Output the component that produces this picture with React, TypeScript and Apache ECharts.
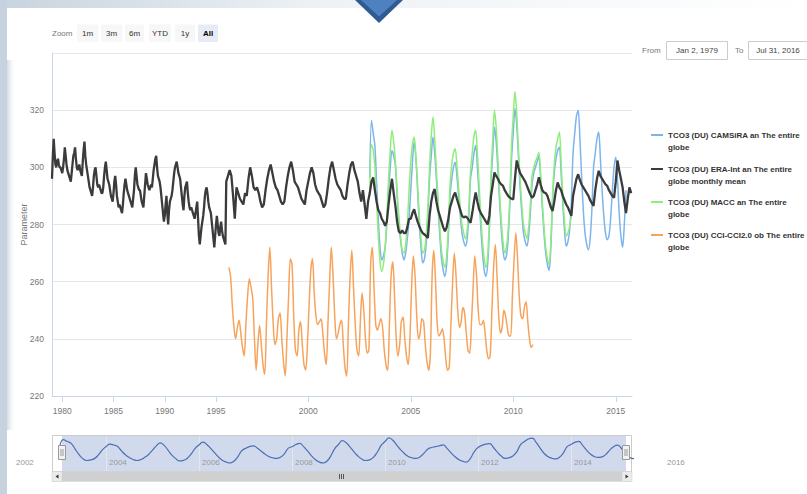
import React, { useEffect, useRef } from "react";
import * as echarts from "echarts";

const FONT = "'Liberation Sans', Arial, sans-serif";

// ---------- series meta ----------
const seriesNames = [
  "TCO3 (DU) CAMSiRA an The entire globe",
  "TCO3 (DU) ERA-Int an The entire globe monthly mean",
  "TCO3 (DU) MACC an The entire globe",
  "TCO3 (DU) CCI-CCI2.0 ob The entire globe",
];
const legendText = [
  "TCO3 (DU) CAMSiRA an The entire\nglobe",
  "TCO3 (DU) ERA-Int an The entire\nglobe monthly mean",
  "TCO3 (DU) MACC an The entire\nglobe",
  "TCO3 (DU) CCI-CCI2.0 ob The entire\nglobe",
];
const seriesColors = ["#7cb5ec", "#3b3b3d", "#90ed7d", "#f7a35c"];

// ---------- axis ticks ----------
const xYearLabels = [1980, 1985, 1990, 1995, 2000, 2005, 2010, 2015];
const yMin = 220;
const yMax = 340;
const yStep = 20;
const navYearMin = 2002;
const navYearMax = 2016;
const navYearStep = 2;

// ---------- zoom buttons / date inputs ----------
const zoomButtons = ["1m", "3m", "6m", "YTD", "1y", "All"];
const fromDate = "Jan 2, 1979";
const toDate = "Jul 31, 2016";

// ---------- data (monthly, DU) ----------
const eraIntStart = [1979, 1];
const eraInt = [
  296, 304, 310, 305, 301, 300, 302, 303, 301, 300, 300, 299, // 1979
  298, 300, 303, 307, 304, 301, 299, 298, 297, 296, 295, 298, // 1980
  301, 304, 305, 307, 303, 300, 299, 300, 301, 299, 298, 297, // 1981
  302, 306, 309, 304, 301, 299, 297, 295, 293, 292, 291, 290, // 1982
  293, 297, 299, 300, 297, 294, 293, 294, 293, 292, 291, 291, // 1983
  293, 297, 300, 302, 299, 296, 295, 294, 292, 290, 289, 288, // 1984
  291, 295, 297, 294, 290, 288, 286, 287, 286, 285, 284, 287, // 1985
  291, 294, 296, 294, 292, 291, 290, 289, 288, 287, 286, 289, // 1986
  292, 297, 300, 297, 294, 293, 292, 292, 290, 288, 287, 286, // 1987
  290, 294, 298, 296, 294, 293, 292, 293, 294, 293, 296, 299, // 1988
  301, 303, 304, 300, 297, 296, 295, 293, 290, 287, 284, 281, // 1989
  283, 287, 290, 284, 280, 285, 288, 289, 290, 292, 295, 298, // 1990
  300, 301, 302, 300, 298, 297, 296, 293, 290, 287, 285, 290, // 1991
  293, 294, 295, 291, 288, 286, 285, 286, 285, 284, 283, 282, // 1992
  284, 286, 288, 282, 276, 273, 276, 279, 281, 283, 286, 290, // 1993
  292, 293, 291, 288, 286, 285, 284, 281, 278, 275, 272, 276, // 1994
  280, 283, 280, 277, 276, 279, 281, 278, 276, 275, 274, 273, // 1995
  295, 297, 299, 297, 290, 282, 293, 291, 289, 288, 287, 291, // 1996
  290, 296, 300, 297, 293, 292, 293, 291, 288, 286, 287, 292, // 1997
  296, 299, 301, 298, 295, 293, 292, 290, 288, 287, 288, 293, // 1998
  297, 300, 302, 299, 295, 294, 293, 291, 289, 288, 287, 292, // 1999
  295, 298, 300, 298, 294, 292, 291, 290, 288, 286, 287, 291, // 2000
  296, 300, 302, 299, 296, 294, 293, 292, 290, 289, 289, 294, // 2001
  298, 301, 302, 299, 297, 295, 291, 288, 292, 287, 282, 288, // 2002
  291, 295, 296.5, 292, 288, 285, 284, 282, 281, 279.5, 281, 287, // 2003
  292, 296, 291, 286.5, 281, 277.6, 277, 278, 277, 277, 279, 282, // 2004
  282, 284, 285.3, 283, 281, 279.4, 278, 277, 276.5, 276, 275.3, 283, // 2005
  288, 291, 292.4, 288, 285, 283, 281, 279, 277.6, 279, 282, 286, // 2006
  288, 290, 291.2, 289, 287, 285, 283, 282.5, 282.8, 282.4, 281.5, 280.6, // 2007
  284, 288, 291.2, 288, 285.3, 284, 283, 282, 281, 280, 283, 290, // 2008
  294, 298.2, 297, 296, 294.7, 294, 293.5, 292, 291, 290, 289.4, 289, // 2009
  288.8, 296, 302.4, 300, 298, 297, 296, 295, 293.5, 292, 290.5, 289.4, // 2010
  290, 292, 294, 296.5, 294, 292, 291.2, 291, 290, 288, 286, 284.7, // 2011
  288, 292, 294.7, 293, 292, 290, 288.5, 287, 286, 284.5, 283, 290, // 2012
  293, 296, 297.6, 295.5, 294, 293, 292, 291, 290, 288.5, 287.5, 286.5, // 2013
  292, 296, 298.8, 297, 296, 295, 294, 293.5, 292, 291, 290, 289.4, // 2014
  295, 302.4, 299, 296, 293, 288, 284, 289, 293, 291, // 2015 (Jan-Oct)
];

const camsiraStart = [2003, 1];
const camsira = [
  296.5, 316.5, 312, 307.6, 295, 281.8, 272, 267.6, 269, 272, 280, 292, // 2003
  300, 305.9, 304, 300.6, 290, 281, 274.7, 270, 267.6, 270, 275, 281.8, // 2004
  292, 302, 309, 303, 292, 280, 272, 266.5, 268, 273, 283, 296, // 2005
  304, 310.6, 305, 296, 286, 276, 268, 264, 261.8, 266, 276, 290, // 2006
  296, 300, 301.8, 297, 290, 283, 277, 274, 272.4, 275, 283, 296, // 2007
  300, 305, 307.6, 300, 290, 279, 270, 264, 261.8, 266, 278, 295, // 2008
  305, 314, 309, 299, 288, 278, 271, 267.6, 269, 275, 287, 303, // 2009
  312, 320.6, 315, 304, 293, 284, 277, 274, 272.4, 276, 284, 294, // 2010
  298, 300, 302, 304, 296, 286, 277, 270, 266, 264, 272, 288, // 2011
  298, 303, 306, 307, 298, 287, 278, 272.4, 274, 278, 288, 305, // 2012
  312, 318, 320, 310, 297, 285, 277, 273, 271.2, 275, 285, 300, // 2013
  305, 310, 312.4, 303, 292, 283, 277, 274.7, 276, 282, 292, 300, // 2014
  303.5, 296, 284, 276, 272, 280, 292, // 2015 (Jan-Jul)
];

const maccStart = [2003, 1];
const macc = [
  290, 308, 306, 300, 288, 276, 267, 263.5, 266, 272, 283, 296, // 2003
  306, 313, 309, 302, 292, 283, 276, 271, 270, 273, 280, 292, // 2004
  302, 308, 310.6, 304, 294, 283, 275, 270, 271, 276, 286, 300, // 2005
  311, 317.6, 310, 299, 289, 279, 271, 267, 265, 269, 279, 294, // 2006
  301, 305, 306.5, 301, 293, 286, 280, 277, 275, 278, 286, 299, // 2007
  305, 311, 313, 305, 294, 283, 274, 268, 265, 269, 281, 298, // 2008
  310, 320, 314, 303, 291, 281, 274, 270, 272, 278, 290, 308, // 2009
  318, 326.5, 319, 307, 296, 287, 280, 277, 275, 279, 287, 297, // 2010
  300, 302, 303.5, 305.3, 298, 288, 279, 272, 268, 266, 274, 290, // 2011
  301, 307, 310, 312.4, 302, 290, 281, 276, 277, 279.4, 283, // 2012 (Jan-Nov)
];

const cciStart = [1996, 2];
const cci = [
  265, 262, 252, 244, 240, 244, 246.5, 242, 237, 234, 245, // 1996 (Feb-Dec)
  255, 261, 258, 254, 240, 229, 238, 244.7, 238, 231, 227.6, 245, // 1997
  262, 272, 258, 245, 238, 240, 247, 249, 240, 232, 227, 240, // 1998
  255, 268, 266, 248, 236, 234, 243, 246, 238, 231, 229, 238, // 1999
  252, 264, 268, 256, 248, 245, 246, 247, 242, 235, 231, 245, // 2000
  260, 272, 262, 248, 240, 242, 245, 246.5, 238, 230, 227, 245, // 2001
  262, 271, 258, 245, 236, 234, 246, 256, 250, 240, 235, 236, // 2002
  266, 272, 258, 245, 243, 245, 247, 244, 236, 231, 229, 245, // 2003
  262, 267, 255, 240, 234, 238, 246, 247.6, 240, 234, 231, 240, // 2004
  258, 269, 262, 248, 240, 242, 247, 246, 238, 232, 229, 235, // 2005
  262, 271, 260, 245, 241, 242, 243.5, 240, 233, 229, 230, 245, // 2006
  260, 270, 262, 250, 244, 246, 251, 249, 242, 236, 235, 245, // 2007
  258, 269, 262, 250, 245, 245, 246.5, 242, 236, 233, 234, 250, // 2008
  265, 273, 262, 248, 242, 244, 250, 248, 244, 241, 241, 255, // 2009
  268, 277, 268, 255, 248, 247, 251, 253, 246, 240, 237, 238, // 2010
];

// ---------- ordinal categories (monthly until 1995, half-monthly after) ----------
const categories: string[] = [];
for (let y = 1979; y <= 2015; y++) {
  for (let m = 1; m <= 12; m++) {
    if (y === 2015 && m > 10) break;
    const mm = String(m).padStart(2, "0");
    categories.push(`${y}-${mm}-01`);
    if (y >= 1996) categories.push(`${y}-${mm}-15`);
  }
}
const catIndex = new Map<string, number>();
categories.forEach((c, i) => catIndex.set(c, i));

function place(values: number[], start: number[], mid: boolean) {
  const out: (number | null)[] = new Array(categories.length).fill(null);
  let y = start[0];
  let m = start[1];
  values.forEach((v) => {
    const key = `${y}-${String(m).padStart(2, "0")}-${mid ? "15" : "01"}`;
    const idx = catIndex.get(key);
    if (idx !== undefined) out[idx] = v;
    m++;
    if (m > 12) {
      m = 1;
      y++;
    }
  });
  return out;
}

const navData = camsira.map((v, i) => [camsiraStart[0] + (camsiraStart[1] - 1 + i) / 12, v]);

const labelFn = (_i: number, val: string) =>
  val.endsWith("-01-01") && xYearLabels.includes(Number(val.slice(0, 4)));

function buildGraphic() {
  const els: any[] = [];
  // page background decorations
  els.push({
    type: "rect",
    shape: { x: 0, y: 0, width: 807, height: 8 },
    style: {
      fill: {
        type: "linear", x: 0, y: 0, x2: 1, y2: 0,
        colorStops: [
          { offset: 0, color: "#c8d4de" },
          { offset: 0.4, color: "#eef2f5" },
          { offset: 1, color: "#ffffff" },
        ],
      },
    },
  });
  els.push({
    type: "rect",
    shape: { x: 0, y: 0, width: 7, height: 494 },
    style: { fill: "#c6d3de" },
  });
  els.push({
    type: "rect",
    shape: { x: 7, y: 60, width: 9, height: 370 },
    style: {
      fill: {
        type: "linear", x: 0, y: 0, x2: 1, y2: 0,
        colorStops: [
          { offset: 0, color: "rgba(198,211,222,0.8)" },
          { offset: 1, color: "rgba(255,255,255,0)" },
        ],
      },
    },
  });
  // chevron
  els.push({
    type: "polygon",
    shape: { points: [[355, 0], [403, 0], [379, 23]] },
    style: { fill: "#2f5b93" },
  });
  els.push({
    type: "polygon",
    shape: { points: [[361, 0], [397, 0], [379, 16.5]] },
    style: { fill: "#4f80c0" },
  });
  // zoom buttons
  els.push({
    type: "text", x: 52, y: 33,
    style: { text: "Zoom", fill: "#777", font: `8px ${FONT}`, verticalAlign: "middle" },
  });
  const btnX = [[77, 98], [101, 122], [125, 144], [149, 171], [175, 195], [198, 218]];
  zoomButtons.forEach((b, i) => {
    const sel = b === "All";
    els.push({
      type: "rect",
      shape: { x: btnX[i][0], y: 24.5, width: btnX[i][1] - btnX[i][0], height: 17.5, r: 1 },
      style: { fill: sel ? "#e6ebf5" : "#f7f7f7" },
    });
    els.push({
      type: "text", x: (btnX[i][0] + btnX[i][1]) / 2, y: 33,
      style: {
        text: b, fill: sel ? "#000" : "#333",
        font: `${sel ? "bold " : ""}8px ${FONT}`,
        align: "center", verticalAlign: "middle",
      },
    });
  });
  // range inputs
  els.push({
    type: "text", x: 642, y: 50,
    style: { text: "From", fill: "#777", font: `8px ${FONT}`, verticalAlign: "middle" },
  });
  els.push({
    type: "rect", shape: { x: 666.5, y: 41.5, width: 61, height: 18 },
    style: { fill: "#fff", stroke: "#cccccc", lineWidth: 1 },
  });
  els.push({
    type: "text", x: 697, y: 50.5,
    style: { text: fromDate, fill: "#444", font: `8px ${FONT}`, align: "center", verticalAlign: "middle" },
  });
  els.push({
    type: "text", x: 735, y: 50,
    style: { text: "To", fill: "#777", font: `8px ${FONT}`, verticalAlign: "middle" },
  });
  els.push({
    type: "rect", shape: { x: 748.5, y: 41.5, width: 62, height: 18 },
    style: { fill: "#fff", stroke: "#cccccc", lineWidth: 1 },
  });
  els.push({
    type: "text", x: 778, y: 50.5,
    style: { text: toDate, fill: "#444", font: `8px ${FONT}`, align: "center", verticalAlign: "middle" },
  });
  // navigator frame / mask
  els.push({
    type: "rect", shape: { x: 52.5, y: 435.5, width: 579, height: 36 },
    style: { fill: "#ffffff", stroke: "#cccccc", lineWidth: 1 },
  });
  els.push({
    type: "rect", shape: { x: 62, y: 436, width: 564, height: 35 },
    style: { fill: "rgba(102,133,194,0.3)" },
  });
  // handles
  [62, 626].forEach((cx) => {
    els.push({
      type: "rect", shape: { x: cx - 3.5, y: 445.5, width: 7, height: 14 },
      style: { fill: "#f2f2f2", stroke: "#999999", lineWidth: 1 },
      z: 10,
    });
    els.push({ type: "line", shape: { x1: cx - 1, y1: 449, x2: cx - 1, y2: 456 }, style: { stroke: "#999", lineWidth: 1 }, z: 11 });
    els.push({ type: "line", shape: { x1: cx + 1, y1: 449, x2: cx + 1, y2: 456 }, style: { stroke: "#999", lineWidth: 1 }, z: 11 });
  });
  // scrollbar
  els.push({ type: "rect", shape: { x: 52, y: 471.5, width: 580, height: 10 }, style: { fill: "#dcdcdc" } });
  els.push({ type: "rect", shape: { x: 62, y: 471.5, width: 560, height: 10 }, style: { fill: "#d0d0d0" } });
  els.push({ type: "rect", shape: { x: 52, y: 471.5, width: 10, height: 10 }, style: { fill: "#ebebeb", stroke: "#cccccc", lineWidth: 0.5 } });
  els.push({ type: "rect", shape: { x: 622, y: 471.5, width: 10, height: 10 }, style: { fill: "#ebebeb", stroke: "#cccccc", lineWidth: 0.5 } });
  els.push({ type: "polygon", shape: { points: [[55.5, 476.5], [58.5, 474.5], [58.5, 478.5]] }, style: { fill: "#333" } });
  els.push({ type: "polygon", shape: { points: [[628.5, 476.5], [625.5, 474.5], [625.5, 478.5]] }, style: { fill: "#333" } });
  [339.5, 341.5, 343.5].forEach((gx) =>
    els.push({ type: "line", shape: { x1: gx, y1: 474, x2: gx, y2: 479 }, style: { stroke: "#555", lineWidth: 1 } })
  );
  return els;
}

export default function App() {
  const ref = useRef<HTMLDivElement>(null);
  useEffect(() => {
    if (!ref.current) return;
    const chart = echarts.init(ref.current, undefined, { renderer: "svg" });
    const dataSets = [
      place(camsira, camsiraStart, false),
      place(eraInt, eraIntStart, false),
      place(macc, maccStart, false),
      place(cci, cciStart, true),
    ];
    const widths = [1.5, 2.3, 1.5, 1.5];
    const zs = [2, 6, 3, 4];
    const option: any = {
      animation: false,
      backgroundColor: "#ffffff",
      textStyle: { fontFamily: FONT },
      graphic: { elements: buildGraphic() },
      legend: seriesNames.map((n, i) => ({
        data: [{ name: n, icon: "rect" }],
        left: 651,
        top: [135, 169, 202, 235][i] - 18,
        orient: "vertical",
        itemWidth: 12,
        itemHeight: 2,
        itemGap: 0,
        padding: 0,
        selectedMode: false,
        formatter: () => "\n" + legendText[i],
        textStyle: {
          fontFamily: FONT,
          fontSize: 8,
          fontWeight: "bold",
          color: "#333",
          lineHeight: 12,
        },
      })),
      grid: [
        { left: 52, right: 175, top: 53, bottom: 98 },
        { left: 52, width: 580, top: 436, height: 35 },
        { left: 13, width: 651, top: 436, height: 35 },
      ],
      xAxis: [
        {
          type: "category",
          gridIndex: 0,
          data: categories,
          boundaryGap: false,
          axisLine: { lineStyle: { color: "#ccd6eb" } },
          axisTick: { show: true, interval: labelFn, length: 6, lineStyle: { color: "#ccd6eb" } },
          axisLabel: {
            interval: labelFn,
            formatter: (v: string) => v.slice(0, 4),
            color: "#777",
            fontSize: 8.5,
            margin: 10,
          },
          splitLine: { show: false },
        },
        {
          type: "value",
          gridIndex: 1,
          min: 2002 + (52 - 13) / 46.5,
          max: 2002 + (632 - 13) / 46.5,
          show: false,
        },
        {
          type: "value",
          gridIndex: 2,
          min: navYearMin,
          max: navYearMax,
          interval: navYearStep,
          axisLine: { show: false },
          axisTick: { show: false },
          axisLabel: {
            inside: true,
            align: "left",
            padding: [0, 0, 0, 3],
            margin: 5,
            color: "#999",
            fontSize: 8,
            showMinLabel: true,
            showMaxLabel: true,
            formatter: (v: number) => String(v),
          },
          splitLine: {
            show: true,
            showMinLine: false,
            showMaxLine: false,
            lineStyle: { color: "#e1e6ef" },
          },
        },
      ],
      yAxis: [
        {
          type: "value",
          gridIndex: 0,
          min: yMin,
          max: yMax,
          interval: yStep,
          name: "Parameter",
          nameLocation: "middle",
          nameGap: 24,
          nameMoveOverlap: false,
          nameTextStyle: { color: "#777", fontSize: 9 },
          axisLine: { show: true, lineStyle: { color: "#ccd6eb" } },
          axisTick: { show: false },
          axisLabel: { color: "#777", fontSize: 8.5, margin: 8, showMaxLabel: false },
          splitLine: { lineStyle: { color: "#e6e6e6" } },
        },
        { type: "value", gridIndex: 1, min: 243, max: 325, show: false },
        { type: "value", gridIndex: 2, min: 0, max: 1, show: false },
      ],
      series: [
        ...dataSets.map((d, i) => ({
          name: seriesNames[i],
          type: "line",
          xAxisIndex: 0,
          yAxisIndex: 0,
          data: d,
          connectNulls: true,
          symbol: "none",
          smooth: i === 1 ? false : 0.3,
          color: seriesColors[i],
          lineStyle: { color: seriesColors[i], width: widths[i] },
          z: zs[i],
          silent: true,
        })),
        {
          name: "Navigator",
          type: "line",
          xAxisIndex: 1,
          yAxisIndex: 1,
          data: navData,
          symbol: "none",
          smooth: 0.5,
          color: "#4d6fb5",
          lineStyle: { color: "#4d6fb5", width: 1.2 },
          silent: true,
          z: 5,
        },
      ],
    };
    chart.setOption(option);
    return () => chart.dispose();
  }, []);
  return (
    <div
      ref={ref}
      style={{ position: "fixed", left: 0, top: 0, width: 807, height: 494, background: "#fff" }}
    />
  );
}
